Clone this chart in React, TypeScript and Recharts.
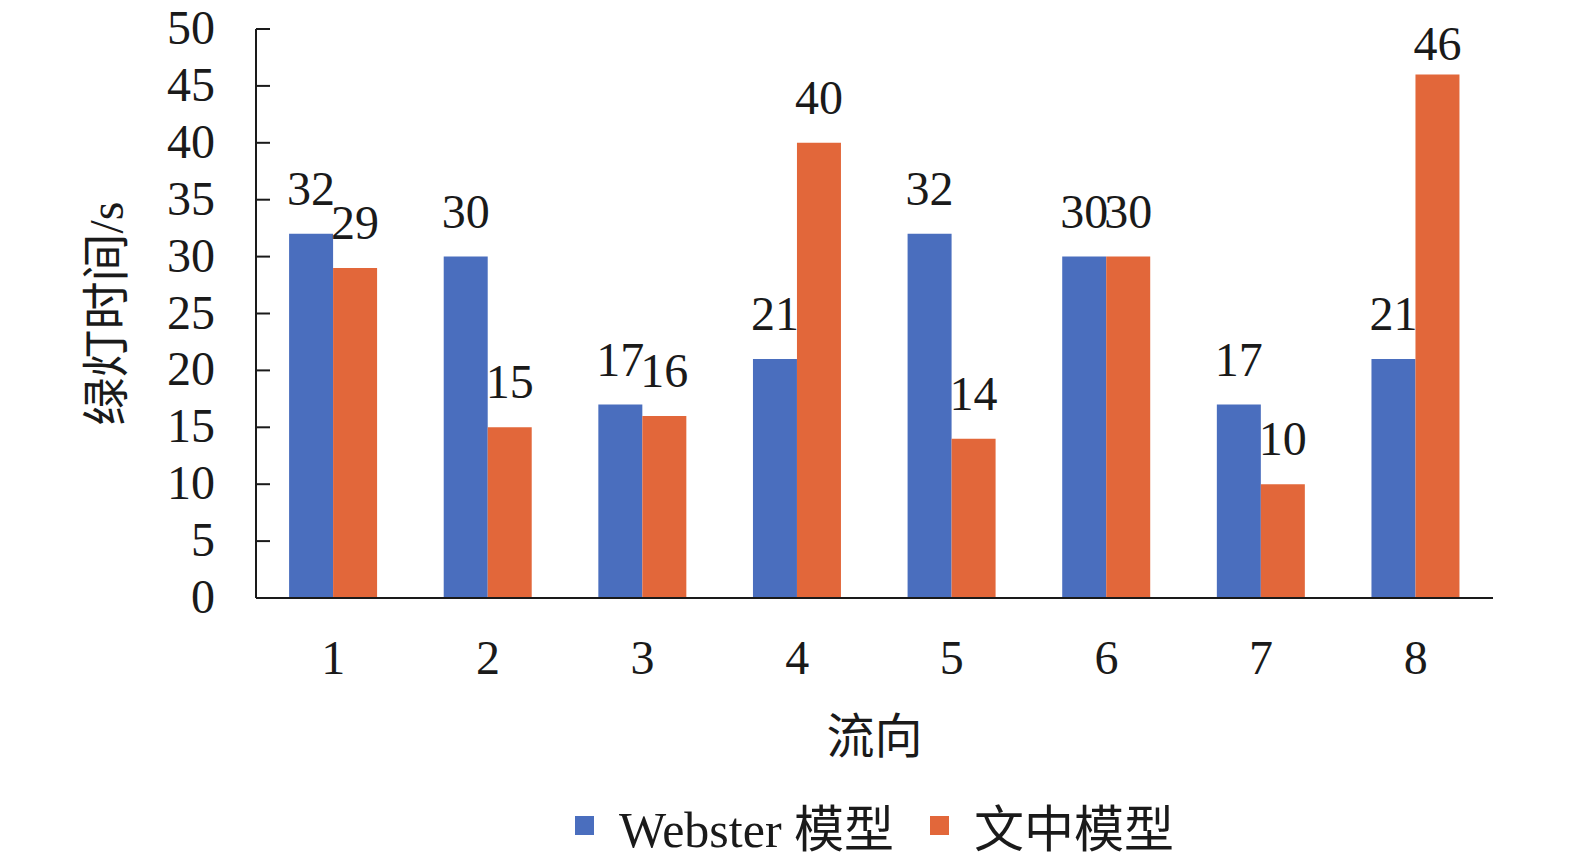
import React from 'react';
import { BarChart, Bar, XAxis, YAxis, Legend, LabelList, Label } from 'recharts';

const categories = ['1', '2', '3', '4', '5', '6', '7', '8'];
const websterValues = [32, 30, 17, 21, 32, 30, 17, 21];
const paperValues = [29, 15, 16, 40, 14, 30, 10, 46];
const yTicks = [0, 5, 10, 15, 20, 25, 30, 35, 40, 45, 50];
const seriesNames = ['Webster 模型', '文中模型'];
const seriesColors = ['#4a6ebe', '#e2673a'];

const data = categories.map((c, i) => ({
  name: c,
  webster: websterValues[i],
  paper: paperValues[i],
}));

const FONT = "'Liberation Serif', 'Times New Roman', 'Noto Sans CJK SC', serif";

const BarLabel = (props: any) => {
  const { x, y, width, value } = props;
  const baseline = Math.max(y - 29, 60);
  return (
    <text
      x={x + width / 2}
      y={baseline}
      textAnchor="middle"
      fontSize={48}
      fontFamily={FONT}
      fill="#1a1a1a"
    >
      {value}
    </text>
  );
};

const YTitle = (props: any) => {
  const { viewBox } = props;
  const cx = viewBox.x + 106;
  const cy = viewBox.y + viewBox.height / 2;
  return (
    <text
      x={cx}
      y={cy}
      transform={`rotate(-90 ${cx} ${cy})`}
      textAnchor="middle"
      dominantBaseline="central"
      fontSize={48}
      fontFamily={FONT}
      fill="#1a1a1a"
    >
      绿灯时间/s
    </text>
  );
};

const LegendContent = () => (
  <div
    style={{
      display: 'flex',
      justifyContent: 'center',
      alignItems: 'center',
      fontFamily: FONT,
      fontSize: 50,
      color: '#1a1a1a',
      height: 60,
    }}
  >
    {seriesNames.map((n, i) => (
      <div key={n} style={{ display: 'flex', alignItems: 'center', marginRight: i === 0 ? 36 : 0 }}>
        <span
          style={{
            display: 'inline-block',
            width: 19,
            height: 19,
            background: seriesColors[i],
            marginRight: 25,
          }}
        />
        <span>{n}</span>
      </div>
    ))}
  </div>
);

export default function App() {
  return (
    <div style={{ position: 'absolute', left: 0, top: 0, width: 1575, height: 862, background: '#fff' }}>
      <BarChart
        width={1575}
        height={862}
        data={data}
        margin={{ top: 29, right: 82, bottom: 0, left: 0 }}
        barCategoryGap="21.4%"
        barGap={0}
      >
        <XAxis
          dataKey="name"
          height={264}
          tickLine={false}
          tickSize={0}
          tickMargin={42}
          axisLine={{ stroke: '#1a1a1a', strokeWidth: 2 }}
          tick={{ fontSize: 48, fontFamily: FONT, fill: '#1a1a1a' }}
        >
          <Label
            value="流向"
            position="insideTop"
            offset={121}
            style={{ fontSize: 48, fontFamily: FONT, fill: '#1a1a1a' }}
          />
        </XAxis>
        <YAxis
          width={256}
          domain={[0, 50]}
          ticks={yTicks}
          interval={0}
          tickSize={-14}
          tickMargin={55}
          axisLine={{ stroke: '#1a1a1a', strokeWidth: 2 }}
          tickLine={{ stroke: '#1a1a1a', strokeWidth: 2 }}
          tick={{ fontSize: 48, fontFamily: FONT, fill: '#1a1a1a', dy: -2 }}
        >
          <Label content={<YTitle />} />
        </YAxis>
        <Legend
          layout="horizontal"
          verticalAlign="middle"
          align="center"
          wrapperStyle={{ left: 256, width: 1237, top: 795 }}
          content={<LegendContent />}
        />
        <Bar dataKey="webster" name={seriesNames[0]} fill={seriesColors[0]} isAnimationActive={false}>
          <LabelList dataKey="webster" content={<BarLabel />} />
        </Bar>
        <Bar dataKey="paper" name={seriesNames[1]} fill={seriesColors[1]} isAnimationActive={false}>
          <LabelList dataKey="paper" content={<BarLabel />} />
        </Bar>
      </BarChart>
    </div>
  );
}
